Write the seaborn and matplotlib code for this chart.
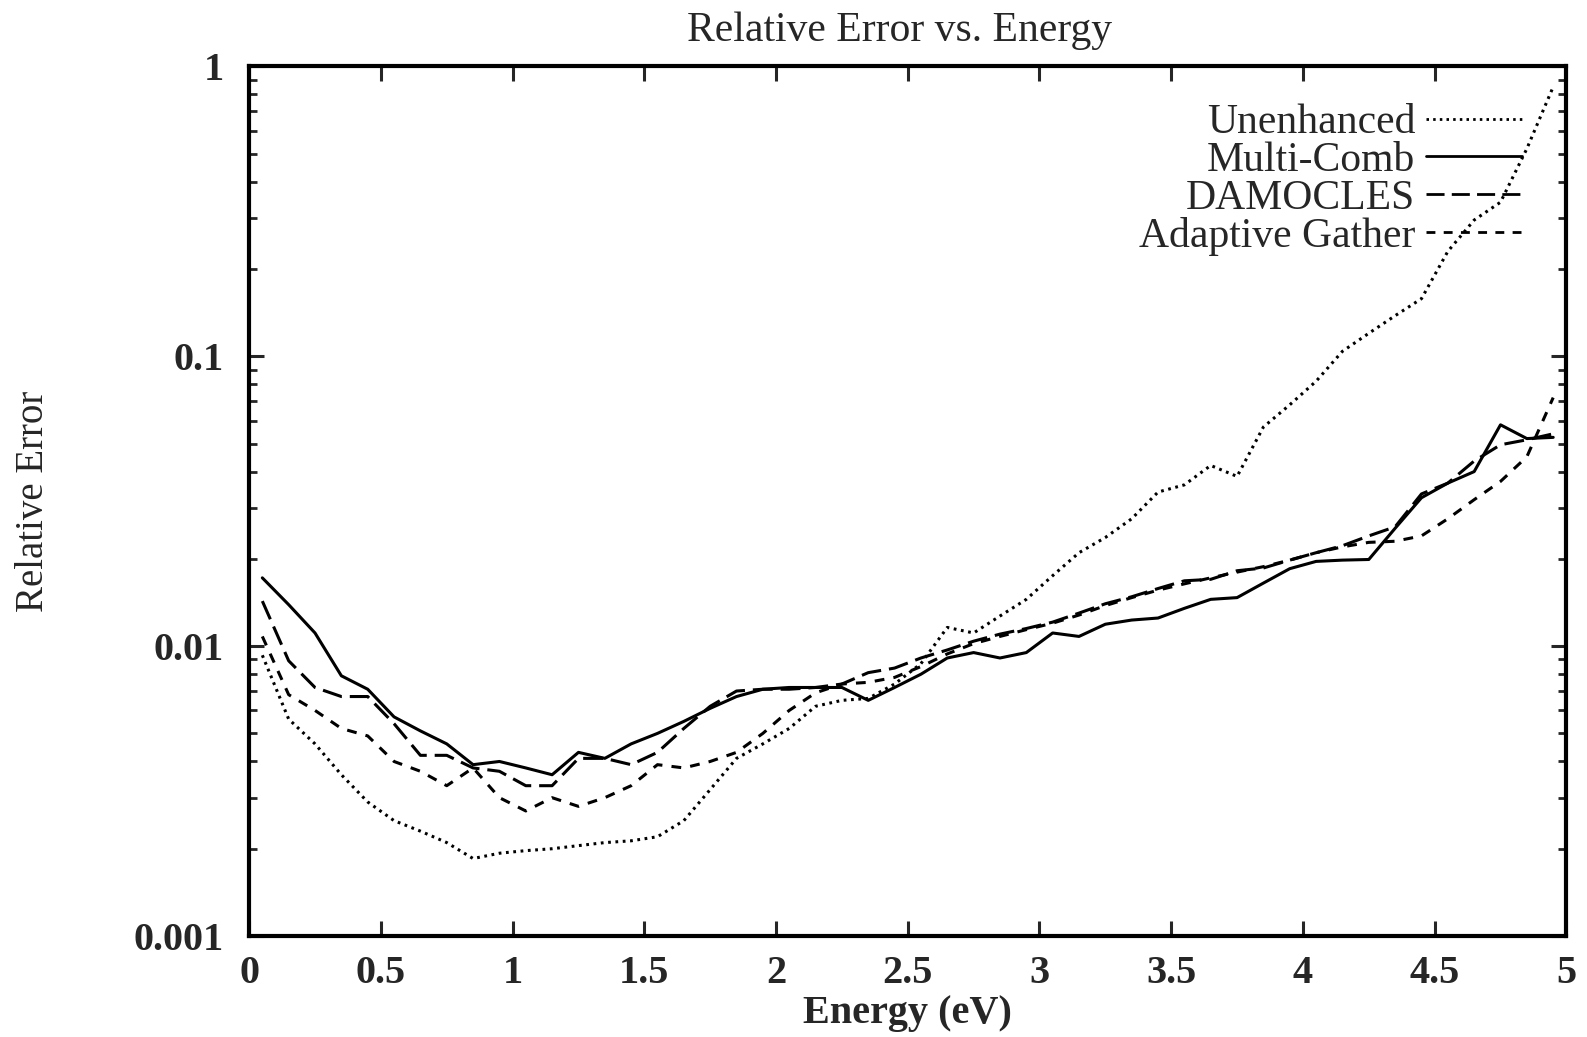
import matplotlib
matplotlib.use('Agg')
import matplotlib.pyplot as plt
import seaborn as sns
import numpy as np
import pandas as pd
from matplotlib.ticker import FixedLocator, FuncFormatter, NullFormatter

# --- DATA ---
energy = [0.05, 0.15, 0.25, 0.35, 0.45, 0.55, 0.65, 0.75, 0.85, 0.95,
          1.05, 1.15, 1.25, 1.35, 1.45, 1.55, 1.65, 1.75, 1.85, 1.95,
          2.05, 2.15, 2.25, 2.35, 2.45, 2.55, 2.65, 2.75, 2.85, 2.95,
          3.05, 3.15, 3.25, 3.35, 3.45, 3.55, 3.65, 3.75, 3.85, 3.95,
          4.05, 4.15, 4.25, 4.35, 4.45, 4.55, 4.65, 4.75, 4.85, 4.95]

unenhanced = [0.0093, 0.0056, 0.0046, 0.0036, 0.0029, 0.0025, 0.0023, 0.0021, 0.00185, 0.00193,
              0.00197, 0.0020, 0.00205, 0.0021, 0.00213, 0.0022, 0.0025, 0.0032, 0.0041, 0.0046,
              0.0052, 0.0062, 0.0065, 0.0066, 0.0074, 0.0087, 0.0116, 0.0111, 0.0127, 0.0145,
              0.0175, 0.0210, 0.0237, 0.0275, 0.0340, 0.0360, 0.0420, 0.0385, 0.0570, 0.0680,
              0.0820, 0.1040, 0.1200, 0.1380, 0.1580, 0.2300, 0.2950, 0.3400, 0.5200, 0.8500]

multi_comb = [0.0172, 0.0139, 0.0111, 0.0079, 0.0071, 0.0057, 0.0051, 0.0046, 0.0039, 0.0040,
              0.0038, 0.0036, 0.0043, 0.0041, 0.0046, 0.0050, 0.0055, 0.0061, 0.0067, 0.0071,
              0.0072, 0.0072, 0.0072, 0.0065, 0.0072, 0.0080, 0.0091, 0.0095, 0.0091, 0.0095,
              0.0111, 0.0108, 0.0119, 0.0123, 0.0125, 0.0135, 0.0145, 0.0147, 0.0165, 0.0185,
              0.0196, 0.0198, 0.0199, 0.0255, 0.0325, 0.0365, 0.0400, 0.0580, 0.0520, 0.0525]

damocles = [0.0143, 0.0089, 0.0072, 0.0067, 0.0067, 0.0054, 0.0042, 0.0042, 0.0038, 0.0037,
            0.0033, 0.0033, 0.0041, 0.0041, 0.0039, 0.0043, 0.0052, 0.0062, 0.0070, 0.0071,
            0.0071, 0.0072, 0.0074, 0.0081, 0.0084, 0.0091, 0.0097, 0.0104, 0.0110, 0.0115,
            0.0121, 0.0130, 0.0140, 0.0148, 0.0158, 0.0168, 0.0170, 0.0182, 0.0186, 0.0198,
            0.0210, 0.0222, 0.0240, 0.0258, 0.0335, 0.0365, 0.0435, 0.0495, 0.0515, 0.0540]

adaptive_gather = [0.0108, 0.0068, 0.0060, 0.0052, 0.0049, 0.0040, 0.0037, 0.0033, 0.0038, 0.0030,
                   0.0027, 0.0030, 0.0028, 0.0030, 0.0033, 0.0039, 0.0038, 0.0040, 0.0043, 0.0050,
                   0.0060, 0.0069, 0.0074, 0.0075, 0.0078, 0.0085, 0.0094, 0.0102, 0.0108, 0.0114,
                   0.0120, 0.0128, 0.0138, 0.0147, 0.0156, 0.0164, 0.0172, 0.0180, 0.0188, 0.0198,
                   0.0210, 0.0220, 0.0228, 0.0230, 0.0240, 0.0275, 0.0320, 0.0370, 0.0450, 0.0720]

method_names = ['Unenhanced', 'Multi-Comb', 'DAMOCLES', 'Adaptive Gather']
x_ticks = [0, 0.5, 1, 1.5, 2, 2.5, 3, 3.5, 4, 4.5, 5]
y_ticks = [0.001, 0.01, 0.1, 1]

# long table for seaborn
df = pd.concat([
    pd.DataFrame({'energy': energy, 'error': vals, 'method': name})
    for name, vals in zip(method_names, [unenhanced, multi_comb, damocles, adaptive_gather])
], ignore_index=True)

# gnuplot-like line types
dash_map = {
    'Unenhanced': (0.9, 1.5),
    'Multi-Comb': '',
    'DAMOCLES': (6.5, 2.6),
    'Adaptive Gather': (3.2, 3.0),
}

sns.set_style('ticks')
plt.rcParams['font.family'] = ['Liberation Serif', 'DejaVu Serif']


def make_plot():
    fig = plt.figure(figsize=(15.87, 10.37), dpi=100)
    ax = fig.add_axes([0.157, 0.0974, 0.830, 0.8386])

    sns.lineplot(data=df, x='energy', y='error', style='method', style_order=method_names,
                 dashes=dash_map, color='black', linewidth=2.2, estimator=None, sort=False,
                 ax=ax)

    ax.set_yscale('log')
    ax.set_xlim(0, 5)
    ax.set_ylim(0.001, 1)

    # ticks: inward, mirrored, gnuplot style
    ax.xaxis.set_major_locator(FixedLocator(x_ticks))
    ax.xaxis.set_major_formatter(FuncFormatter(lambda v, p: f'{v:g}'))
    ax.yaxis.set_major_locator(FixedLocator(y_ticks))
    ax.yaxis.set_major_formatter(FuncFormatter(lambda v, p: f'{v:g}'))
    minor = [m * 10.0 ** e for e in (-3, -2, -1) for m in range(2, 10)]
    ax.yaxis.set_minor_locator(FixedLocator(minor))
    ax.yaxis.set_minor_formatter(NullFormatter())

    ax.tick_params(axis='both', which='major', direction='in', top=True, right=True,
                   length=11, width=2.2, labelsize=29)
    ax.tick_params(axis='y', which='minor', direction='in', left=True, right=True,
                   length=6, width=2.0)
    ax.tick_params(axis='x', which='major', pad=14)
    ax.tick_params(axis='y', which='major', pad=18)
    for lab in ax.get_xticklabels() + ax.get_yticklabels():
        lab.set_fontweight('bold')

    for side in ['left', 'right', 'top', 'bottom']:
        ax.spines[side].set_visible(True)
        ax.spines[side].set_linewidth(3)
        ax.spines[side].set_color('black')

    ax.set_xlabel('Energy (eV)', fontsize=29, fontweight='bold')
    ax.xaxis.set_label_coords(0.5, -0.068)
    ax.set_ylabel('Relative Error', fontsize=28)
    ax.yaxis.set_label_coords(-0.150, 0.5)

    fig.text(0.567, 0.970, 'Relative Error vs. Energy', ha='center', va='center', fontsize=30)

    # legend: text on the left, line sample on the right
    handles, labels = ax.get_legend_handles_labels()
    leg = ax.legend(handles, labels, loc='upper right', bbox_to_anchor=(0.966, 0.957),
                    frameon=False, markerfirst=False, fontsize=30, handlelength=2.3,
                    handletextpad=0.25, labelspacing=-0.02, borderpad=0, borderaxespad=0)
    for line in leg.get_lines():
        line.set_color('black')
        line.set_linewidth(2.0)

    fig.savefig('out.png', dpi=100)


if __name__ == '__main__':
    make_plot()
